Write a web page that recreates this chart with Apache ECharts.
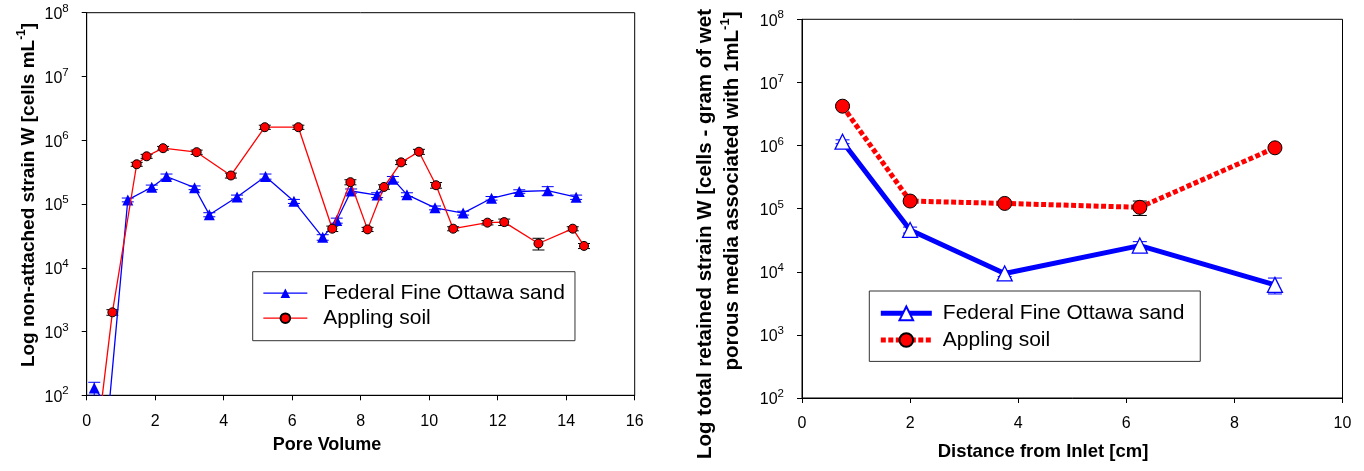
<!DOCTYPE html>
<html><head><meta charset="utf-8">
<script src="https://cdn.jsdelivr.net/npm/echarts@6/dist/echarts.min.js"></script>
<style>html,body{margin:0;padding:0;background:#fff}#c{width:1364px;height:471px}</style>
</head><body><div id="c"></div>
<script>
// ---- Left chart: non-attached strain W vs pore volume ----
const poreFed = [0.22, 0.65, 1.2, 1.9, 2.33, 3.15, 3.58, 4.39, 5.22, 6.05, 6.89, 7.30, 7.72, 8.48, 8.94, 9.35, 10.17, 10.99, 11.82, 12.63, 13.46, 14.29];
const fedNonAttached = [130, 65, 1.16e5, 1.83e5, 2.7e5, 1.8e5, 6.8e4, 1.29e5, 2.7e5, 1.1e5, 3.0e4, 5.5e4, 1.6e5, 1.38e5, 2.45e5, 1.4e5, 8.7e4, 7.2e4, 1.23e5, 1.57e5, 1.62e5, 1.28e5];
const fedNonAttachedErr = [30, 0, 8e3, 1.5e4, 2.5e4, 1.2e4, 5e3, 9e3, 2.5e4, 8e3, 3e3, 5e3, 1.2e4, 1.2e4, 2.5e4, 1e4, 6e3, 5e3, 8e3, 1e4, 2.5e4, 1e4];
const poreApp = [0.25, 0.75, 1.46, 1.75, 2.23, 3.21, 4.21, 5.2, 6.18, 7.17, 7.70, 8.20, 8.68, 9.18, 9.70, 10.2, 10.7, 11.7, 12.19, 13.19, 14.19, 14.52];
const appNonAttached = [12, 2000, 4.2e5, 5.6e5, 7.5e5, 6.5e5, 2.8e5, 1.6e6, 1.6e6, 4.1e4, 2.2e5, 4.0e4, 1.85e5, 4.5e5, 6.6e5, 1.97e5, 4.1e4, 5.1e4, 5.2e4, 2.4e4, 4.1e4, 2.2e4];
const appNonAttachedErr = [0, 200, 3e4, 4e4, 5e4, 5e4, 2.5e4, 1.2e5, 1.2e5, 4e3, 2e4, 3e3, 1.5e4, 3.5e4, 6e4, 2e4, 3e3, 4e3, 6e3, 5e3, 3e3, 2e3];
// ---- Right chart: total retained strain W vs distance ----
const distance = [0.75, 2, 3.75, 6.25, 8.75];
const fedRetained = [1.15e6, 4.6e4, 9.4e3, 2.6e4, 6.2e3];
const fedRetainedErr = [8e4, 5e3, 1e3, 4e3, 1.75e3];
const appRetained = [4.2e6, 1.32e5, 1.21e5, 1.05e5, 9.2e5];
const appRetainedErr = [2e5, 1e4, 8e3, 2.7e4, 5e4];
// ---- Axis ticks ----
const poreTicks = {min: 0, max: 16, interval: 2};
const distTicks = {min: 0, max: 10, interval: 2};
const logRange = {min: 1e2, max: 1e8};
const seriesNames = ['Federal Fine Ottawa sand', 'Appling soil'];

const FONT = "'Liberation Sans', Arial, sans-serif";
const zip = (a, b) => a.map((x, i) => [x, b[i]]);

function errSeries(xs, ys, es, idx, color, half) {
  return {
    type: 'custom', xAxisIndex: idx, yAxisIndex: idx, z: 1, clip: true, silent: true,
    data: xs.map((x, i) => [x, ys[i], es[i]]),
    encode: {x: 0, y: 1},
    renderItem(params, api) {
      const x = api.value(0), y = api.value(1), e = api.value(2);
      if (!e) return null;
      const t = api.coord([x, y + e]);
      const b = api.coord([x, Math.max(y - e, y * 0.05)]);
      const st = {stroke: color, lineWidth: 1};
      return {type: 'group', children: [
        {type: 'line', shape: {x1: t[0], y1: t[1], x2: b[0], y2: b[1]}, style: st},
        {type: 'line', shape: {x1: t[0] - half, y1: t[1], x2: t[0] + half, y2: t[1]}, style: st},
        {type: 'line', shape: {x1: b[0] - half, y1: b[1], x2: b[0] + half, y2: b[1]}, style: st}
      ]};
    }
  };
}

function xAxis(idx, t) {
  return {
    type: 'value', gridIndex: idx, min: t.min, max: t.max, interval: t.interval,
    axisLine: {show: true, onZero: false, lineStyle: {color: '#000', width: 1}},
    axisTick: {show: true, length: 5, lineStyle: {color: '#000'}},
    splitLine: {show: false},
    axisLabel: {color: '#000', fontSize: 16, fontFamily: FONT, margin: 18, showMinLabel: true, showMaxLabel: true}
  };
}
function yAxis(idx) {
  return {
    type: 'log', logBase: 10, gridIndex: idx, min: logRange.min, max: logRange.max,
    axisLine: {show: true, onZero: false, lineStyle: {color: '#000', width: 1}},
    axisTick: {show: true, length: 5, lineStyle: {color: '#000'}},
    splitLine: {show: false}, minorTick: {show: false},
    axisLabel: {
      color: '#000', margin: 18, showMinLabel: true, showMaxLabel: true,
      formatter: v => '{b|10}{s|' + Math.round(Math.log10(v)) + '}',
      rich: {
        b: {fontSize: 16, fontFamily: FONT, color: '#000', lineHeight: 20, verticalAlign: 'bottom'},
        s: {fontSize: 11.5, fontFamily: FONT, color: '#000', lineHeight: 12, verticalAlign: 'top'}
      }
    }
  };
}

function titleRich(size) {
  return {
    t: {fontSize: size, fontWeight: 'bold', fontFamily: FONT, color: '#000', lineHeight: size + 4, verticalAlign: 'bottom'},
    s: {fontSize: Math.round(size * 0.65), fontWeight: 'bold', fontFamily: FONT, color: '#000', lineHeight: 14, verticalAlign: 'top'}
  };
}

const legendCommon = {
  orient: 'vertical', itemGap: 0, borderColor: '#333', borderWidth: 1, selectedMode: false,
  backgroundColor: '#fff'
};

const chart = echarts.init(document.getElementById('c'), null, {renderer: 'canvas'});
chart.setOption({
  animation: false,
  backgroundColor: '#fff',
  grid: [
    {left: 86.7, top: 12.7, width: 548, height: 382.6, show: true, borderColor: '#000', borderWidth: 1, outerBoundsMode: 'none'},
    {left: 802, top: 19.3, width: 540.5, height: 378.7, show: true, borderColor: '#000', borderWidth: 1, outerBoundsMode: 'none'}
  ],
  xAxis: [xAxis(0, poreTicks), xAxis(1, distTicks)],
  yAxis: [yAxis(0), yAxis(1)],
  legend: [
    Object.assign({}, legendCommon, {
      left: 252.7, top: 271.7, padding: [9, 10, 10, 10], itemWidth: 44, itemHeight: 12,
      data: seriesNames,
      lineStyle: {width: 1.3},
      textStyle: {fontSize: 21, lineHeight: 25, padding: [0, 0, 0, 11], color: '#000', fontFamily: FONT}
    }),
    Object.assign({}, legendCommon, {
      left: 869.3, top: 291, padding: [9, 10, 8, 9], itemWidth: 51, itemHeight: 17,
      data: seriesNames.map(n => n + ' '),
      lineStyle: {width: 5},
      textStyle: {fontSize: 21, lineHeight: 26.7, padding: [0, 0, 0, 6], color: '#000', fontFamily: FONT}
    })
  ],
  graphic: [
    {type: 'text', x: 27, y: 195, rotation: Math.PI / 2, style: {
      text: '{t|Log non-attached strain W [cells mL}{s|-1}{t|]}', rich: titleRich(19), align: 'center', verticalAlign: 'middle'}},
    {type: 'text', x: 327, y: 445, style: {
      text: 'Pore Volume', fontSize: 18, fontWeight: 'bold', fontFamily: FONT, fill: '#000', align: 'center', verticalAlign: 'middle'}},
    {type: 'text', x: 704, y: 234, rotation: Math.PI / 2, style: {
      text: '{t|Log total retained strain W [cells - gram of wet}', rich: titleRich(20.5), align: 'center', verticalAlign: 'middle'}},
    {type: 'text', x: 731, y: 191, rotation: Math.PI / 2, style: {
      text: '{t|porous media associated with 1mL}{s|-1}{t|]}', rich: titleRich(20.5), align: 'center', verticalAlign: 'middle'}},
    {type: 'text', x: 1043, y: 452, style: {
      text: 'Distance from Inlet [cm]', fontSize: 18.5, fontWeight: 'bold', fontFamily: FONT, fill: '#000', align: 'center', verticalAlign: 'middle'}}
  ],
  series: [
    errSeries(poreFed, fedNonAttached, fedNonAttachedErr, 0, '#0000ff', 6),
    errSeries(poreApp, appNonAttached, appNonAttachedErr, 0, '#000000', 6),
    {
      type: 'line', name: seriesNames[0], xAxisIndex: 0, yAxisIndex: 0, z: 3,
      data: zip(poreFed, fedNonAttached), symbol: 'triangle', symbolSize: 11,
      itemStyle: {color: '#0000ff'}, lineStyle: {color: '#0000ff', width: 1.3}
    },
    {
      type: 'line', name: seriesNames[1], xAxisIndex: 0, yAxisIndex: 0, z: 4,
      data: zip(poreApp, appNonAttached), symbol: 'circle', symbolSize: 9,
      itemStyle: {color: '#ff0000', borderColor: '#000', borderWidth: 1}, lineStyle: {color: '#ff0000', width: 1.3}
    },
    errSeries(distance, fedRetained, fedRetainedErr, 1, '#0000ff', 7),
    errSeries(distance, appRetained, appRetainedErr, 1, '#000000', 7),
    {
      type: 'line', name: seriesNames[0] + ' ', xAxisIndex: 1, yAxisIndex: 1, z: 3,
      data: zip(distance, fedRetained), symbol: 'triangle', symbolSize: 15,
      itemStyle: {color: '#ffffff', borderColor: '#0000ff', borderWidth: 1.3},
      lineStyle: {color: '#0000ff', width: 5}
    },
    {
      type: 'line', name: seriesNames[1] + ' ', xAxisIndex: 1, yAxisIndex: 1, z: 4,
      data: zip(distance, appRetained), symbol: 'circle', symbolSize: 14,
      itemStyle: {color: '#ff0000', borderColor: '#000', borderWidth: 1},
      lineStyle: {color: '#ff0000', width: 5, type: [5, 2.5], cap: 'butt'}
    }
  ]
});
</script>
</body></html>
